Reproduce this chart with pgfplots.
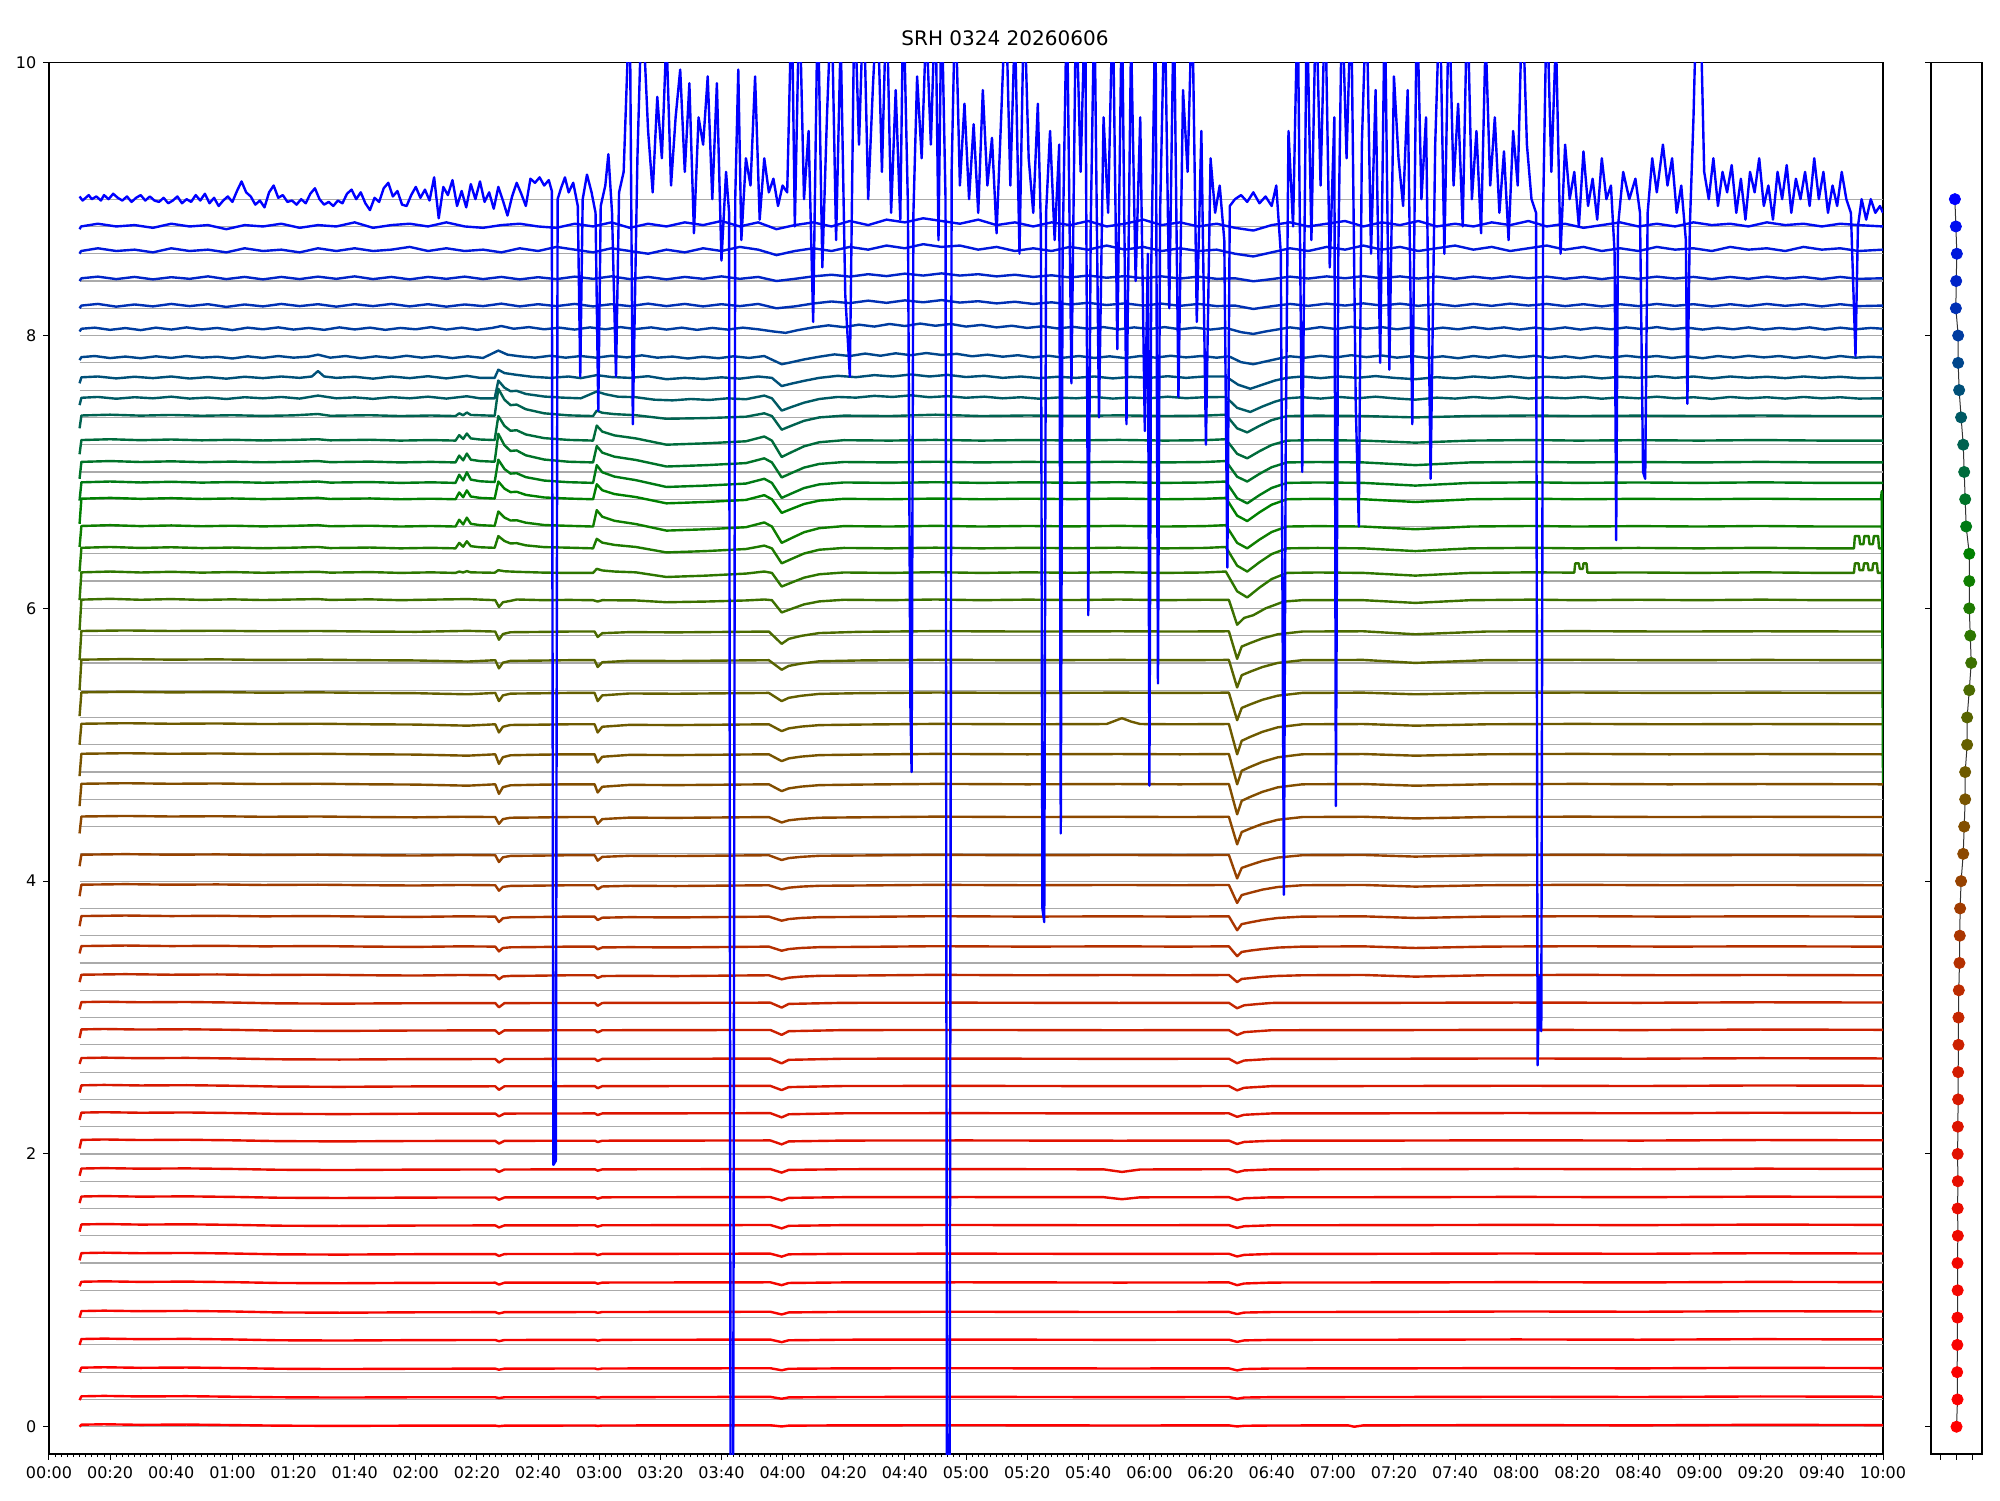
\documentclass[border=0pt]{standalone}
\usepackage{fontspec}
\setmainfont{DejaVu Sans}
\usepackage{pgfplots}
\pgfplotsset{compat=1.18}
\definecolor{c0}{RGB}{255,0,0}\definecolor{c1}{RGB}{252,0,0}\definecolor{c2}{RGB}{250,2,0}\definecolor{c3}{RGB}{248,3,0}
\definecolor{c4}{RGB}{246,4,0}\definecolor{c5}{RGB}{244,6,0}\definecolor{c6}{RGB}{241,8,0}\definecolor{c7}{RGB}{238,10,0}
\definecolor{c8}{RGB}{234,12,0}\definecolor{c9}{RGB}{230,14,0}\definecolor{c10}{RGB}{225,17,0}\definecolor{c11}{RGB}{220,20,0}
\definecolor{c12}{RGB}{215,24,0}\definecolor{c13}{RGB}{210,28,0}\definecolor{c14}{RGB}{203,33,0}\definecolor{c15}{RGB}{196,38,0}
\definecolor{c16}{RGB}{188,43,0}\definecolor{c17}{RGB}{180,48,0}\definecolor{c18}{RGB}{170,54,0}\definecolor{c19}{RGB}{160,60,0}
\definecolor{c20}{RGB}{150,66,0}\definecolor{c21}{RGB}{140,72,0}\definecolor{c22}{RGB}{130,78,0}\definecolor{c23}{RGB}{120,84,0}
\definecolor{c24}{RGB}{110,90,0}\definecolor{c25}{RGB}{100,95,0}\definecolor{c26}{RGB}{88,100,0}\definecolor{c27}{RGB}{75,106,0}
\definecolor{c28}{RGB}{60,112,0}\definecolor{c29}{RGB}{45,118,0}\definecolor{c30}{RGB}{30,122,0}\definecolor{c31}{RGB}{15,126,0}
\definecolor{c32}{RGB}{0,128,0}\definecolor{c33}{RGB}{0,122,20}\definecolor{c34}{RGB}{0,115,40}\definecolor{c35}{RGB}{0,107,60}
\definecolor{c36}{RGB}{0,98,80}\definecolor{c37}{RGB}{0,90,100}\definecolor{c38}{RGB}{0,80,120}\definecolor{c39}{RGB}{0,70,140}
\definecolor{c40}{RGB}{0,60,160}\definecolor{c41}{RGB}{0,48,180}\definecolor{c42}{RGB}{0,36,200}\definecolor{c43}{RGB}{0,24,220}
\definecolor{c44}{RGB}{0,12,240}\definecolor{c45}{RGB}{0,0,255}
\definecolor{gline}{RGB}{170,170,170}
\begin{document}
\begin{tikzpicture}
\path[use as bounding box] (0,0) rectangle (1000pt,750pt);
\node[anchor=base, font=\fontsize{10}{12}\selectfont] at (502.5pt,727.1pt) {SRH 0324 20260606};
\begin{axis}[
  at={(24.5pt,23pt)}, anchor=south west, scale only axis,
  width=917pt, height=695.6pt,
  xmin=0, xmax=600, ymin=-0.2, ymax=10,
  xtick={0,20,...,600},
  xticklabels={00:00,00:20,00:40,01:00,01:20,01:40,02:00,02:20,02:40,03:00,03:20,03:40,04:00,04:20,04:40,05:00,05:20,05:40,06:00,06:20,06:40,07:00,07:20,07:40,08:00,08:20,08:40,09:00,09:20,09:40,10:00},
  minor x tick num=9,
  ytick={0,2,4,6,8,10},
  tick pos=left, tick align=outside,
  major tick length=2.8pt, minor tick length=1.6pt,
  every tick/.style={black, line width=0.5pt},
  axis line style={line width=0.6pt},
  tick label style={font=\fontsize{8}{9.5}\selectfont},
  /pgf/number format/assume math mode=true,
  every axis plot/.append style={line width=1.2pt, line join=round},
]
\pgfplotsinvokeforeach{0,0.2,0.4,0.6,0.8,1.0,1.2,1.4,1.6,1.8,2.0,2.2,2.4,2.6,2.8,3.0,3.2,3.4,3.6,3.8,4.0,4.2,4.4,4.6,4.8,5.0,5.2,5.4,5.6,5.8,6.0,6.2,6.4,6.6,6.8,7.0,7.2,7.4,7.6,7.8,8.0,8.2,8.4,8.6,8.8,9.0}{
  \addplot[gline, line width=0.6pt] coordinates {(10,#1)(600,#1)};
}
% k=0..15
\addplot[c0] coordinates {(10,0.0)(10.6,0.015)(18,0.018)(30,0.014)(45,0.016)(60,0.012)(75,0.008)(95,0.006)(120,0.008)(146,0.008)(147.2,0.004)(149,0.008)(178.6,0.009)(179.5,0.006)(181,0.009)(210,0.01)(236,0.011)(239.7,0.002)(242,0.008)(260,0.01)(300,0.011)(350,0.009)(386,0.01)(388.7,0.002)(391,0.007)(400,0.009)(425,0.01)(427,0.0)(430,0.01)(480,0.012)(520,0.01)(560,0.014)(600,0.012)};
\addplot[c1] coordinates {(10,0.195)(10.6,0.223)(18,0.226)(30,0.222)(45,0.224)(60,0.22)(75,0.216)(95,0.214)(120,0.216)(146,0.216)(147.2,0.21)(149,0.216)(178.6,0.217)(179.5,0.212)(181,0.217)(210,0.218)(236,0.219)(239.7,0.205)(242,0.215)(260,0.218)(300,0.219)(350,0.217)(386,0.218)(388.7,0.205)(391,0.214)(400,0.217)(440,0.218)(480,0.22)(520,0.218)(560,0.222)(600,0.22)};
\addplot[c2] coordinates {(10,0.40)(10.6,0.433)(18,0.436)(30,0.432)(45,0.434)(60,0.43)(75,0.425)(95,0.423)(120,0.425)(146,0.426)(147.2,0.418)(149,0.426)(178.6,0.427)(179.5,0.421)(181,0.427)(210,0.428)(236,0.429)(239.7,0.414)(242,0.425)(260,0.428)(300,0.429)(350,0.427)(386,0.428)(388.7,0.413)(391,0.423)(400,0.427)(440,0.428)(480,0.43)(520,0.428)(560,0.432)(600,0.43)};
\addplot[c3] coordinates {(10,0.60)(10.6,0.643)(18,0.646)(30,0.642)(45,0.644)(60,0.64)(75,0.634)(95,0.632)(120,0.635)(146,0.636)(147.2,0.627)(149,0.636)(178.6,0.637)(179.5,0.631)(181,0.637)(210,0.638)(236,0.639)(239.7,0.62)(242,0.634)(260,0.638)(300,0.639)(350,0.637)(386,0.638)(388.7,0.622)(391,0.633)(400,0.637)(440,0.638)(480,0.64)(520,0.638)(560,0.642)(600,0.64)};
\addplot[c4] coordinates {(10,0.80)(10.6,0.848)(18,0.851)(30,0.847)(45,0.849)(60,0.845)(75,0.838)(95,0.836)(120,0.839)(146,0.84)(147.2,0.83)(149,0.84)(178.6,0.841)(179.5,0.835)(181,0.841)(210,0.842)(236,0.843)(239.7,0.823)(242,0.838)(260,0.842)(300,0.843)(350,0.841)(386,0.842)(388.7,0.826)(391,0.837)(400,0.841)(440,0.842)(480,0.845)(520,0.843)(560,0.847)(600,0.845)};
\addplot[c5] coordinates {(10,1.03)(10.6,1.063)(18,1.066)(30,1.062)(45,1.064)(60,1.06)(75,1.054)(95,1.052)(120,1.055)(146,1.056)(147.2,1.042)(149,1.056)(178.6,1.057)(179.5,1.048)(181,1.057)(210,1.058)(236,1.059)(239.7,1.038)(242,1.054)(260,1.058)(300,1.059)(350,1.057)(386,1.058)(388.7,1.038)(391,1.05)(400,1.057)(440,1.058)(480,1.06)(520,1.058)(560,1.062)(600,1.06)};
\addplot[c6] coordinates {(10,1.22)(10.6,1.273)(18,1.276)(30,1.272)(45,1.274)(60,1.27)(75,1.264)(95,1.262)(120,1.265)(146,1.266)(147.2,1.252)(149,1.266)(178.6,1.267)(179.5,1.258)(181,1.267)(210,1.268)(236,1.269)(239.7,1.247)(242,1.264)(260,1.268)(300,1.269)(350,1.267)(386,1.268)(388.7,1.248)(391,1.26)(400,1.267)(440,1.268)(480,1.27)(520,1.268)(560,1.272)(600,1.27)};
\addplot[c7] coordinates {(10,1.43)(10.6,1.483)(18,1.486)(30,1.482)(45,1.484)(60,1.48)(75,1.474)(95,1.472)(120,1.475)(146,1.476)(147.2,1.461)(149,1.476)(178.6,1.477)(179.5,1.467)(181,1.477)(210,1.478)(236,1.479)(239.7,1.454)(242,1.473)(260,1.478)(300,1.479)(350,1.477)(386,1.478)(388.7,1.458)(391,1.47)(400,1.477)(440,1.478)(480,1.48)(520,1.478)(560,1.482)(600,1.48)};
\addplot[c8] coordinates {(10,1.64)(10.6,1.688)(18,1.691)(30,1.687)(45,1.689)(60,1.685)(75,1.679)(95,1.677)(120,1.68)(146,1.681)(147.2,1.664)(149,1.681)(178.6,1.682)(179.5,1.672)(181,1.682)(210,1.683)(236,1.684)(239.7,1.659)(242,1.678)(260,1.683)(300,1.684)(345,1.683)(351,1.668)(357,1.682)(386,1.683)(388.7,1.662)(391,1.675)(400,1.682)(440,1.683)(480,1.685)(520,1.683)(560,1.687)(600,1.685)};
\addplot[c9] coordinates {(10,1.84)(10.6,1.893)(18,1.896)(30,1.892)(45,1.894)(60,1.89)(75,1.884)(95,1.882)(120,1.885)(146,1.886)(147.2,1.868)(149,1.886)(178.6,1.887)(179.5,1.877)(181,1.887)(210,1.888)(236,1.889)(239.7,1.863)(242,1.883)(260,1.888)(300,1.889)(345,1.887)(351,1.868)(357,1.886)(386,1.888)(388.7,1.866)(391,1.879)(400,1.887)(440,1.888)(480,1.89)(520,1.888)(560,1.892)(600,1.89)};
\addplot[c10] coordinates {(10,2.04)(10.6,2.103)(18,2.106)(30,2.102)(45,2.104)(60,2.10)(75,2.094)(95,2.092)(120,2.095)(146,2.096)(147.2,2.076)(149,2.096)(178.6,2.097)(179.5,2.087)(181,2.097)(210,2.098)(236,2.099)(239.7,2.07)(242,2.092)(260,2.098)(300,2.099)(350,2.097)(386,2.098)(388.7,2.073)(391,2.088)(400,2.097)(440,2.098)(480,2.10)(520,2.098)(560,2.102)(600,2.10)};
\addplot[c11] coordinates {(10,2.25)(10.6,2.303)(18,2.306)(30,2.302)(45,2.304)(60,2.30)(75,2.294)(95,2.292)(120,2.295)(146,2.296)(147.2,2.275)(149,2.296)(178.6,2.297)(179.5,2.285)(181,2.297)(210,2.298)(236,2.299)(239.7,2.268)(242,2.291)(260,2.298)(300,2.299)(350,2.297)(386,2.298)(388.7,2.272)(391,2.287)(400,2.297)(440,2.298)(480,2.30)(520,2.298)(560,2.302)(600,2.30)};
\addplot[c12] coordinates {(10,2.45)(10.6,2.503)(18,2.506)(30,2.502)(45,2.504)(60,2.50)(75,2.494)(95,2.492)(120,2.495)(146,2.496)(147.2,2.47)(149,2.496)(178.6,2.497)(179.5,2.482)(181,2.497)(210,2.498)(236,2.499)(239.7,2.468)(242,2.49)(260,2.498)(300,2.499)(350,2.497)(386,2.498)(388.7,2.466)(391,2.485)(400,2.497)(440,2.498)(480,2.50)(520,2.498)(560,2.502)(600,2.50)};
\addplot[c13] coordinates {(10,2.66)(10.6,2.703)(18,2.706)(30,2.702)(45,2.704)(60,2.70)(75,2.694)(95,2.692)(120,2.695)(146,2.696)(147.2,2.67)(149,2.696)(178.6,2.697)(179.5,2.681)(181,2.697)(210,2.698)(236,2.699)(239.7,2.664)(242,2.69)(260,2.698)(300,2.699)(350,2.697)(386,2.698)(388.7,2.665)(391,2.685)(400,2.697)(440,2.698)(480,2.70)(520,2.698)(560,2.702)(600,2.70)};
\addplot[c14] coordinates {(10,2.85)(10.6,2.913)(18,2.916)(30,2.912)(45,2.914)(60,2.91)(75,2.904)(95,2.902)(120,2.905)(146,2.906)(147.2,2.88)(149,2.906)(178.6,2.907)(179.5,2.891)(181,2.907)(210,2.908)(236,2.909)(239.7,2.873)(242,2.9)(260,2.908)(300,2.909)(350,2.907)(386,2.908)(388.7,2.872)(391,2.893)(400,2.907)(440,2.908)(480,2.91)(520,2.908)(560,2.912)(600,2.91)};
\addplot[c15] coordinates {(10,3.06)(10.6,3.113)(18,3.116)(30,3.112)(45,3.114)(60,3.11)(75,3.104)(95,3.102)(120,3.105)(146,3.106)(147.2,3.075)(149,3.106)(178.6,3.107)(179.5,3.086)(181,3.107)(210,3.108)(236,3.109)(239.7,3.073)(242,3.1)(260,3.108)(300,3.109)(350,3.107)(386,3.108)(388.7,3.068)(391,3.09)(396,3.1)(400,3.107)(440,3.108)(480,3.11)(520,3.108)(560,3.112)(600,3.11)};
% k=16..27
\addplot[c16] coordinates {(10,3.26)(10.6,3.314)(25,3.318)(40,3.314)(55,3.316)(70,3.312)(88,3.314)(105,3.31)(120,3.308)(135,3.312)(146,3.31)(147.2,3.28)(148.5,3.301)(151,3.305)(160,3.307)(170,3.31)(178.5,3.31)(179.5,3.29)(181,3.304)(190,3.306)(205,3.304)(220,3.307)(235.5,3.31)(239.7,3.28)(242,3.292)(246,3.3)(252,3.306)(265,3.308)(290,3.313)(320,3.31)(350,3.312)(370,3.31)(386,3.312)(388.7,3.26)(390.2,3.283)(393,3.289)(397,3.298)(402,3.305)(410,3.31)(430,3.312)(447,3.30)(470,3.31)(500,3.313)(530,3.31)(560,3.312)(600,3.31)};
\addplot[c17] coordinates {(10,3.47)(10.6,3.524)(25,3.528)(40,3.524)(55,3.526)(70,3.522)(88,3.524)(105,3.52)(120,3.518)(135,3.522)(146,3.52)(147.2,3.485)(148.5,3.51)(151,3.515)(160,3.517)(170,3.52)(178.5,3.52)(179.5,3.50)(181,3.514)(190,3.516)(205,3.514)(220,3.517)(235.5,3.52)(239.7,3.49)(242,3.502)(246,3.51)(252,3.516)(265,3.518)(290,3.523)(320,3.52)(350,3.522)(370,3.52)(386,3.522)(388.7,3.45)(390.2,3.481)(393,3.491)(397,3.502)(402,3.513)(410,3.52)(430,3.522)(447,3.51)(470,3.52)(500,3.523)(530,3.52)(560,3.522)(600,3.52)};
\addplot[c18] coordinates {(10,3.67)(10.6,3.744)(25,3.748)(40,3.744)(55,3.746)(70,3.742)(88,3.744)(105,3.74)(120,3.738)(135,3.742)(146,3.74)(147.2,3.70)(148.5,3.728)(151,3.735)(160,3.737)(170,3.74)(178.5,3.74)(179.5,3.715)(181,3.732)(190,3.736)(205,3.734)(220,3.737)(235.5,3.74)(239.7,3.71)(242,3.722)(246,3.73)(252,3.736)(265,3.738)(290,3.743)(320,3.74)(350,3.742)(370,3.74)(386,3.742)(388.7,3.64)(390.2,3.685)(393,3.698)(397,3.715)(402,3.73)(410,3.74)(430,3.742)(447,3.73)(470,3.74)(500,3.743)(530,3.74)(560,3.742)(600,3.74)};
\addplot[c19] coordinates {(10,3.89)(10.6,3.974)(25,3.978)(40,3.974)(55,3.976)(70,3.972)(88,3.974)(105,3.97)(120,3.968)(135,3.972)(146,3.97)(147.2,3.93)(148.5,3.958)(151,3.965)(160,3.967)(170,3.97)(178.5,3.97)(179.5,3.94)(181,3.961)(190,3.966)(205,3.964)(220,3.967)(235.5,3.97)(239.7,3.94)(242,3.952)(246,3.96)(252,3.966)(265,3.968)(290,3.973)(320,3.97)(350,3.972)(370,3.97)(386,3.972)(388.7,3.84)(390.2,3.898)(393,3.915)(397,3.938)(402,3.957)(410,3.97)(430,3.972)(447,3.96)(470,3.97)(500,3.973)(530,3.97)(560,3.972)(600,3.97)};
\addplot[c20] coordinates {(10,4.11)(10.6,4.194)(25,4.198)(40,4.194)(55,4.196)(70,4.192)(88,4.194)(105,4.19)(120,4.188)(135,4.192)(146,4.19)(147.2,4.14)(148.5,4.175)(151,4.185)(160,4.187)(170,4.19)(178.5,4.19)(179.5,4.15)(181,4.178)(190,4.186)(205,4.184)(220,4.187)(235.5,4.19)(239.7,4.155)(242,4.169)(246,4.178)(252,4.186)(265,4.188)(290,4.193)(320,4.19)(350,4.192)(370,4.19)(386,4.192)(388.7,4.02)(390.2,4.097)(393,4.119)(397,4.148)(402,4.173)(410,4.19)(430,4.192)(447,4.18)(470,4.19)(500,4.193)(530,4.19)(560,4.192)(600,4.19)};
\addplot[c21] coordinates {(10,4.35)(10.6,4.474)(25,4.478)(40,4.474)(55,4.476)(70,4.472)(88,4.474)(105,4.47)(120,4.468)(135,4.472)(146,4.47)(147.2,4.42)(148.5,4.455)(151,4.465)(160,4.467)(170,4.47)(178.5,4.47)(179.5,4.42)(181,4.455)(190,4.466)(205,4.464)(220,4.467)(235.5,4.47)(239.7,4.43)(242,4.446)(246,4.456)(252,4.465)(265,4.468)(290,4.473)(320,4.47)(350,4.472)(370,4.47)(386,4.472)(388.7,4.27)(390.2,4.36)(393,4.386)(397,4.42)(402,4.45)(410,4.47)(430,4.472)(447,4.46)(470,4.47)(500,4.473)(530,4.47)(560,4.472)(600,4.47)};
\addplot[c22] coordinates {(10,4.55)(10.6,4.714)(25,4.718)(40,4.714)(55,4.716)(70,4.712)(88,4.714)(105,4.71)(120,4.708)(137,4.70)(146,4.71)(147.2,4.64)(148.5,4.689)(151,4.703)(160,4.707)(170,4.71)(178.5,4.71)(179.5,4.65)(181,4.692)(190,4.706)(205,4.704)(220,4.707)(235.5,4.71)(239.7,4.66)(242,4.68)(246,4.693)(252,4.704)(265,4.708)(290,4.713)(320,4.71)(350,4.712)(370,4.71)(386,4.712)(388.7,4.49)(390.2,4.589)(393,4.618)(397,4.655)(402,4.688)(410,4.71)(430,4.712)(447,4.70)(470,4.71)(500,4.713)(530,4.71)(560,4.712)(600,4.71)};
\addplot[c23] coordinates {(10,4.77)(10.6,4.934)(25,4.938)(40,4.934)(55,4.936)(70,4.932)(88,4.934)(105,4.93)(120,4.928)(137,4.92)(146,4.93)(147.2,4.86)(148.5,4.909)(151,4.923)(160,4.927)(170,4.93)(178.5,4.93)(179.5,4.87)(181,4.912)(190,4.926)(205,4.924)(220,4.927)(235.5,4.93)(239.7,4.88)(242,4.90)(246,4.913)(252,4.924)(265,4.928)(290,4.933)(320,4.93)(350,4.932)(370,4.93)(386,4.932)(388.7,4.71)(390.2,4.809)(393,4.838)(397,4.875)(402,4.908)(410,4.93)(430,4.932)(447,4.92)(470,4.93)(500,4.933)(530,4.93)(560,4.932)(600,4.93)};
\addplot[c24] coordinates {(10,5.0)(10.6,5.154)(25,5.158)(40,5.154)(55,5.156)(70,5.152)(88,5.154)(105,5.15)(120,5.148)(137,5.14)(146,5.15)(147.2,5.09)(148.5,5.132)(151,5.145)(160,5.147)(170,5.15)(178.5,5.15)(179.5,5.09)(181,5.132)(190,5.146)(205,5.144)(220,5.147)(235.5,5.15)(239.7,5.10)(242,5.12)(246,5.133)(252,5.144)(265,5.148)(290,5.153)(320,5.15)(346,5.152)(351,5.195)(354,5.17)(357,5.152)(370,5.15)(386,5.152)(388.7,4.93)(390.2,5.029)(393,5.058)(397,5.095)(402,5.128)(410,5.15)(430,5.152)(447,5.14)(470,5.15)(500,5.153)(530,5.15)(560,5.152)(600,5.15)};
\addplot[c25] coordinates {(10,5.21)(10.6,5.384)(25,5.388)(40,5.384)(55,5.386)(70,5.382)(88,5.384)(105,5.38)(120,5.378)(137,5.37)(146,5.38)(147.2,5.32)(148.5,5.362)(151,5.375)(160,5.377)(170,5.38)(178.5,5.38)(179.5,5.32)(181,5.362)(190,5.376)(205,5.374)(220,5.377)(235.5,5.38)(239.7,5.32)(242,5.344)(246,5.359)(252,5.373)(265,5.378)(290,5.383)(320,5.38)(350,5.382)(370,5.38)(386,5.382)(388.7,5.18)(390.2,5.27)(393,5.296)(397,5.33)(402,5.36)(410,5.38)(430,5.382)(447,5.37)(470,5.38)(500,5.383)(530,5.38)(560,5.382)(600,5.38)};
\addplot[c26] coordinates {(10,5.40)(10.6,5.624)(25,5.628)(40,5.624)(55,5.626)(70,5.622)(88,5.624)(105,5.62)(120,5.618)(137,5.61)(146,5.62)(147.2,5.56)(148.5,5.602)(151,5.615)(160,5.617)(170,5.62)(178.5,5.62)(179.5,5.57)(181,5.605)(190,5.616)(205,5.614)(220,5.617)(235.5,5.62)(239.7,5.55)(242,5.578)(246,5.595)(252,5.612)(265,5.618)(290,5.623)(320,5.62)(350,5.622)(370,5.62)(386,5.622)(388.7,5.42)(390.2,5.51)(393,5.536)(397,5.57)(402,5.60)(410,5.62)(430,5.622)(447,5.60)(470,5.62)(500,5.623)(530,5.62)(560,5.622)(600,5.62)};
\addplot[c27] coordinates {(10,5.62)(10.6,5.834)(25,5.838)(40,5.834)(55,5.836)(70,5.832)(88,5.834)(105,5.83)(120,5.828)(137,5.835)(146,5.83)(147.2,5.77)(148.5,5.812)(151,5.825)(160,5.827)(170,5.83)(178.5,5.83)(179.5,5.79)(181,5.818)(190,5.826)(205,5.824)(220,5.827)(235.5,5.83)(239.7,5.74)(242,5.776)(246,5.798)(252,5.819)(265,5.828)(290,5.833)(320,5.83)(350,5.832)(370,5.83)(386,5.832)(388.7,5.63)(390.2,5.72)(393,5.746)(397,5.78)(402,5.81)(410,5.83)(430,5.832)(447,5.81)(470,5.83)(500,5.833)(530,5.83)(560,5.832)(600,5.83)};
% k=28..37
\addplot[c28] coordinates {(10,5.84)(10.6,6.064)(20,6.07)(30,6.063)(40,6.068)(50,6.062)(60,6.066)(70,6.061)(80,6.065)(88,6.068)(92,6.062)(105,6.066)(115,6.06)(125,6.064)(137,6.068)(146,6.06)(147.2,6.01)(148.5,6.045)(151,6.055)(153,6.065)(162,6.06)(170,6.062)(178,6.06)(179.5,6.05)(181,6.06)(192,6.058)(202,6.045)(215,6.05)(228,6.058)(234,6.065)(236.5,6.06)(239.7,5.97)(243,5.997)(247,6.029)(252,6.051)(260,6.063)(275,6.06)(290,6.065)(305,6.06)(320,6.064)(335,6.061)(350,6.065)(365,6.06)(378,6.063)(386,6.062)(388.7,5.88)(391,5.93)(394,5.95)(398,6.0)(404,6.05)(410,6.06)(430,6.06)(447,6.04)(465,6.06)(485,6.064)(500,6.06)(520,6.063)(540,6.06)(560,6.064)(580,6.06)(600,6.06)};
\addplot[c29] coordinates {(10,6.06)(10.6,6.264)(20,6.27)(30,6.263)(40,6.268)(50,6.262)(60,6.266)(70,6.261)(80,6.265)(88,6.268)(92,6.262)(105,6.266)(115,6.26)(125,6.264)(133,6.26)(134.2,6.27)(135.5,6.263)(136.7,6.273)(138,6.264)(145.8,6.261)(147,6.28)(149,6.272)(153,6.268)(162,6.262)(170,6.26)(178,6.26)(179.2,6.29)(181,6.278)(185,6.27)(192,6.264)(202,6.23)(215,6.24)(228,6.255)(234,6.27)(236.5,6.26)(239.7,6.16)(243,6.19)(247,6.225)(252,6.25)(260,6.263)(275,6.26)(290,6.265)(305,6.26)(320,6.264)(335,6.261)(350,6.265)(365,6.26)(378,6.263)(385,6.27)(388.7,6.125)(392,6.08)(396,6.152)(400,6.215)(405,6.26)(415,6.263)(430,6.26)(447,6.24)(465,6.26)(485,6.264)(499,6.262)(499.3,6.33)(500.5,6.33)(500.8,6.29)(501.8,6.29)(502,6.33)(503,6.33)(503.3,6.262)(520,6.263)(540,6.26)(560,6.264)(580,6.26)(590.5,6.26)(590.8,6.33)(592,6.33)(592.3,6.28)(593.5,6.28)(593.8,6.33)(595,6.33)(595.3,6.28)(596.5,6.28)(596.8,6.33)(598,6.33)(598.3,6.26)(600,6.26)};
\addplot[c30] coordinates {(10,6.27)(10.6,6.444)(20,6.45)(30,6.443)(40,6.448)(50,6.442)(60,6.446)(70,6.441)(80,6.445)(88,6.45)(92,6.442)(105,6.446)(115,6.44)(125,6.444)(133,6.44)(134.2,6.48)(135.5,6.452)(136.7,6.492)(138,6.456)(141,6.448)(145.8,6.444)(147,6.53)(149,6.494)(151,6.476)(153,6.478)(156,6.462)(162,6.449)(170,6.445)(178,6.44)(179.2,6.51)(181,6.482)(185,6.465)(192,6.45)(202,6.41)(215,6.42)(228,6.435)(234,6.46)(236.5,6.44)(239.7,6.33)(243,6.363)(247,6.402)(252,6.43)(260,6.443)(275,6.44)(290,6.445)(305,6.44)(320,6.444)(335,6.441)(350,6.445)(365,6.44)(378,6.443)(385,6.45)(388.7,6.313)(392,6.27)(396,6.338)(400,6.398)(405,6.44)(415,6.443)(430,6.44)(447,6.42)(465,6.44)(485,6.444)(500,6.44)(520,6.443)(540,6.44)(560,6.444)(580,6.44)(590.5,6.44)(590.8,6.53)(592.2,6.53)(592.5,6.47)(593.6,6.47)(593.9,6.53)(595.3,6.53)(595.6,6.47)(596.7,6.47)(597,6.53)(598.4,6.53)(598.7,6.44)(600,6.44)};
\addplot[c31] coordinates {(10,6.45)(10.6,6.604)(20,6.61)(30,6.603)(40,6.608)(50,6.602)(60,6.606)(70,6.601)(80,6.605)(88,6.61)(92,6.602)(105,6.606)(115,6.60)(125,6.604)(133,6.60)(134.2,6.65)(135.5,6.615)(136.7,6.665)(138,6.62)(141,6.61)(145.8,6.605)(147,6.71)(149,6.666)(151,6.644)(153,6.646)(156,6.628)(162,6.611)(170,6.605)(178,6.60)(179.2,6.72)(181,6.672)(185,6.642)(192,6.618)(202,6.57)(215,6.58)(228,6.595)(234,6.63)(236.5,6.60)(239.7,6.48)(243,6.516)(247,6.558)(252,6.588)(260,6.603)(275,6.60)(290,6.605)(305,6.60)(320,6.604)(335,6.601)(350,6.605)(365,6.60)(378,6.603)(385,6.61)(388.7,6.48)(392,6.44)(396,6.504)(400,6.56)(405,6.60)(415,6.603)(430,6.60)(447,6.58)(465,6.60)(485,6.604)(500,6.60)(520,6.603)(540,6.60)(560,6.604)(580,6.60)(600,6.60)};
\addplot[c32] coordinates {(10,6.62)(10.6,6.804)(20,6.81)(30,6.803)(40,6.808)(50,6.802)(60,6.806)(70,6.801)(80,6.805)(88,6.81)(92,6.802)(105,6.806)(115,6.80)(125,6.804)(133,6.80)(134.2,6.85)(135.5,6.815)(136.7,6.865)(138,6.82)(141,6.81)(145.8,6.805)(147,6.93)(149,6.878)(151,6.852)(153,6.855)(156,6.832)(162,6.813)(170,6.805)(178,6.80)(179.2,6.91)(181,6.866)(185,6.838)(192,6.816)(202,6.77)(215,6.78)(228,6.795)(234,6.83)(236.5,6.80)(239.7,6.70)(243,6.73)(247,6.765)(252,6.79)(260,6.803)(275,6.80)(290,6.805)(305,6.80)(320,6.804)(335,6.801)(350,6.805)(365,6.80)(378,6.803)(385,6.81)(388.7,6.68)(392,6.64)(396,6.704)(400,6.76)(405,6.80)(415,6.803)(430,6.80)(447,6.78)(465,6.80)(485,6.804)(500,6.80)(520,6.803)(540,6.80)(560,6.804)(580,6.80)(599.3,6.80)(599.6,6.86)(600,4.72)};
\addplot[c33] coordinates {(10,6.79)(10.6,6.924)(20,6.93)(30,6.923)(40,6.928)(50,6.922)(60,6.926)(70,6.921)(80,6.925)(88,6.93)(92,6.922)(105,6.926)(115,6.92)(125,6.924)(133,6.92)(134.2,6.98)(135.5,6.938)(136.7,6.998)(138,6.944)(141,6.932)(145.8,6.926)(147,7.09)(149,7.022)(151,6.988)(153,6.991)(156,6.962)(162,6.937)(170,6.925)(178,6.92)(179.2,7.05)(181,6.998)(185,6.966)(192,6.94)(202,6.89)(215,6.90)(228,6.915)(234,6.95)(236.5,6.92)(239.7,6.81)(243,6.843)(247,6.882)(252,6.909)(260,6.923)(275,6.92)(290,6.925)(305,6.92)(320,6.924)(335,6.921)(350,6.925)(365,6.92)(378,6.923)(385,6.93)(388.7,6.808)(392,6.77)(396,6.83)(400,6.883)(405,6.92)(415,6.923)(430,6.92)(447,6.90)(465,6.92)(485,6.924)(500,6.92)(520,6.923)(540,6.92)(560,6.924)(580,6.92)(600,6.92)};
\addplot[c34] coordinates {(10,6.95)(10.6,7.074)(20,7.08)(30,7.073)(40,7.078)(50,7.072)(60,7.076)(70,7.071)(80,7.075)(88,7.08)(92,7.072)(105,7.076)(115,7.07)(125,7.074)(133,7.07)(134.2,7.12)(135.5,7.085)(136.7,7.135)(138,7.09)(141,7.08)(145.8,7.075)(147,7.28)(149,7.196)(151,7.154)(153,7.158)(156,7.122)(162,7.091)(170,7.075)(178,7.07)(179.2,7.19)(181,7.142)(185,7.112)(192,7.088)(202,7.04)(215,7.05)(228,7.065)(234,7.10)(236.5,7.07)(239.7,6.96)(243,6.993)(247,7.032)(252,7.059)(260,7.073)(275,7.07)(290,7.075)(305,7.07)(320,7.074)(335,7.071)(350,7.075)(365,7.07)(378,7.073)(385,7.08)(388.7,6.965)(392,6.93)(396,6.986)(400,7.035)(405,7.07)(415,7.073)(430,7.07)(447,7.05)(465,7.07)(485,7.074)(500,7.07)(520,7.073)(540,7.07)(560,7.074)(580,7.07)(600,7.07)};
\addplot[c35] coordinates {(10,7.13)(10.6,7.234)(20,7.24)(30,7.233)(40,7.238)(50,7.232)(60,7.236)(70,7.231)(80,7.235)(88,7.24)(92,7.232)(105,7.236)(115,7.23)(125,7.234)(133,7.23)(134.2,7.27)(135.5,7.242)(136.7,7.282)(138,7.246)(141,7.238)(145.8,7.234)(147,7.41)(149,7.338)(151,7.302)(153,7.306)(156,7.275)(162,7.248)(170,7.235)(178,7.23)(179.2,7.34)(181,7.296)(185,7.268)(192,7.246)(202,7.20)(215,7.21)(228,7.225)(234,7.26)(236.5,7.23)(239.7,7.11)(243,7.146)(247,7.188)(252,7.218)(260,7.233)(275,7.23)(290,7.235)(305,7.23)(320,7.234)(335,7.231)(350,7.235)(365,7.23)(378,7.233)(385,7.24)(388.7,7.133)(392,7.10)(396,7.152)(400,7.198)(405,7.23)(415,7.233)(430,7.23)(447,7.215)(465,7.23)(485,7.234)(500,7.23)(520,7.233)(540,7.23)(560,7.234)(580,7.23)(600,7.23)};
\addplot[c36] coordinates {(10,7.32)(10.6,7.414)(20,7.42)(30,7.413)(40,7.418)(50,7.412)(60,7.416)(70,7.411)(80,7.415)(88,7.425)(92,7.412)(105,7.416)(115,7.41)(125,7.414)(133,7.41)(134.2,7.43)(135.5,7.416)(136.7,7.436)(138,7.418)(145.8,7.412)(147,7.61)(149,7.53)(151,7.49)(153,7.494)(156,7.46)(162,7.43)(170,7.415)(178,7.41)(179.2,7.45)(181,7.434)(185,7.424)(192,7.416)(202,7.39)(215,7.395)(228,7.405)(234,7.43)(236.5,7.41)(239.7,7.31)(243,7.34)(247,7.375)(252,7.40)(260,7.413)(275,7.41)(290,7.42)(305,7.41)(320,7.414)(335,7.411)(350,7.415)(365,7.41)(378,7.413)(385,7.42)(388.7,7.32)(392,7.29)(396,7.338)(400,7.38)(405,7.41)(415,7.413)(430,7.41)(447,7.40)(465,7.41)(485,7.414)(500,7.41)(520,7.413)(540,7.41)(560,7.414)(580,7.41)(600,7.41)};
\addplot[c37] coordinates {(10,7.49)(10.6,7.544)(16,7.55)(22,7.537)(28,7.548)(34,7.54)(40,7.552)(46,7.538)(52,7.546)(58,7.535)(64,7.548)(70,7.54)(76,7.55)(82,7.538)(88,7.56)(94,7.54)(100,7.547)(106,7.536)(112,7.549)(118,7.54)(124,7.552)(130,7.538)(136.7,7.555)(141,7.54)(145.8,7.54)(147,7.67)(149,7.618)(151,7.592)(153,7.595)(156,7.572)(162,7.553)(168,7.545)(174,7.54)(179.2,7.59)(182,7.57)(186,7.552)(192,7.548)(198,7.53)(204,7.525)(210,7.535)(216,7.528)(222,7.54)(228,7.533)(234,7.56)(236.5,7.54)(239.7,7.45)(243,7.477)(247,7.508)(252,7.535)(258,7.55)(264,7.545)(270,7.558)(276,7.55)(282,7.562)(288,7.548)(294,7.556)(300,7.544)(306,7.552)(312,7.54)(318,7.548)(324,7.537)(330,7.546)(336,7.54)(342,7.55)(348,7.538)(354,7.546)(360,7.54)(366,7.552)(372,7.541)(378,7.548)(385,7.55)(388.7,7.47)(393,7.44)(397,7.48)(401,7.515)(405,7.54)(410,7.548)(416,7.538)(422,7.55)(428,7.54)(434,7.552)(440,7.54)(447,7.53)(454,7.545)(460,7.538)(466,7.55)(472,7.54)(478,7.552)(484,7.538)(490,7.547)(496,7.54)(502,7.55)(508,7.537)(514,7.548)(520,7.54)(526,7.552)(532,7.54)(538,7.548)(544,7.536)(550,7.55)(556,7.54)(562,7.548)(568,7.538)(574,7.55)(580,7.54)(586,7.548)(592,7.538)(600,7.54)};
% k=38..44
\addplot[c38] coordinates {(10,7.65)(10.6,7.694)(16,7.70)(22,7.686)(28,7.698)(34,7.688)(40,7.70)(46,7.685)(52,7.696)(58,7.684)(64,7.698)(70,7.688)(76,7.70)(82,7.69)(86,7.70)(88,7.74)(90,7.70)(94,7.69)(100,7.698)(106,7.684)(112,7.70)(118,7.688)(124,7.702)(130,7.686)(136.7,7.705)(141,7.69)(145.8,7.69)(147,7.75)(149,7.725)(153,7.712)(158,7.698)(164,7.69)(170,7.70)(174,7.688)(179.2,7.71)(184,7.696)(190,7.69)(196,7.702)(202,7.68)(208,7.69)(214,7.682)(220,7.694)(226,7.684)(232,7.70)(236.5,7.69)(239.7,7.63)(243,7.648)(247,7.668)(252,7.69)(258,7.705)(264,7.695)(270,7.71)(276,7.70)(282,7.715)(288,7.70)(294,7.712)(300,7.696)(306,7.705)(312,7.69)(318,7.70)(324,7.688)(330,7.698)(336,7.69)(342,7.70)(348,7.686)(354,7.697)(360,7.69)(366,7.702)(372,7.69)(378,7.70)(385,7.70)(389,7.64)(393,7.61)(397,7.64)(401,7.67)(405,7.69)(410,7.70)(416,7.688)(422,7.70)(428,7.69)(434,7.703)(440,7.69)(447,7.68)(454,7.695)(460,7.686)(466,7.70)(472,7.69)(478,7.702)(484,7.688)(490,7.698)(496,7.69)(502,7.70)(508,7.686)(514,7.698)(520,7.69)(526,7.702)(532,7.69)(538,7.70)(544,7.686)(550,7.70)(556,7.69)(562,7.698)(568,7.688)(574,7.70)(580,7.69)(586,7.698)(592,7.688)(600,7.69)};
\addplot[c39] coordinates {(10,7.82)(10.6,7.842)(15,7.85)(20,7.835)(25,7.846)(30,7.834)(35,7.848)(40,7.836)(45,7.85)(50,7.838)(55,7.845)(60,7.832)(65,7.848)(70,7.836)(75,7.85)(80,7.838)(85,7.846)(88,7.86)(92,7.838)(97,7.85)(102,7.834)(107,7.848)(112,7.836)(117,7.852)(122,7.838)(127,7.85)(132,7.835)(137,7.848)(142,7.836)(147,7.89)(150,7.86)(154,7.848)(159,7.838)(164,7.852)(169,7.838)(174,7.85)(179,7.838)(184,7.852)(189,7.84)(194,7.855)(199,7.838)(204,7.846)(209,7.832)(214,7.845)(219,7.834)(224,7.848)(229,7.836)(234,7.85)(239.7,7.79)(243,7.805)(247,7.825)(252,7.845)(257,7.862)(262,7.85)(267,7.868)(272,7.852)(277,7.87)(282,7.856)(287,7.872)(292,7.858)(297,7.866)(302,7.848)(307,7.86)(312,7.845)(317,7.856)(322,7.84)(327,7.852)(332,7.838)(337,7.85)(342,7.836)(347,7.848)(352,7.835)(357,7.85)(362,7.838)(367,7.852)(372,7.84)(377,7.85)(382,7.838)(386,7.848)(390,7.805)(394,7.79)(398,7.81)(402,7.83)(406,7.848)(411,7.838)(416,7.852)(421,7.84)(426,7.856)(431,7.842)(436,7.854)(441,7.838)(446,7.85)(451,7.836)(456,7.848)(461,7.834)(466,7.85)(471,7.838)(476,7.854)(481,7.84)(486,7.852)(491,7.836)(496,7.848)(501,7.834)(506,7.85)(511,7.838)(516,7.852)(521,7.84)(526,7.85)(531,7.836)(536,7.848)(541,7.834)(546,7.85)(551,7.838)(556,7.852)(561,7.84)(566,7.85)(571,7.836)(576,7.848)(581,7.834)(586,7.85)(591,7.838)(596,7.845)(600,7.84)};
\addplot[c40] coordinates {(10,8.03)(10.6,8.05)(15,8.058)(20,8.042)(25,8.055)(30,8.04)(35,8.058)(40,8.044)(45,8.06)(50,8.045)(55,8.056)(60,8.04)(65,8.058)(70,8.046)(75,8.06)(80,8.044)(85,8.056)(90,8.042)(95,8.06)(100,8.045)(105,8.058)(110,8.042)(115,8.056)(120,8.046)(125,8.062)(130,8.044)(135,8.058)(140,8.042)(145,8.056)(148,8.07)(152,8.05)(157,8.062)(162,8.046)(167,8.058)(172,8.044)(177,8.06)(182,8.046)(187,8.062)(192,8.048)(197,8.06)(202,8.044)(207,8.058)(212,8.042)(217,8.056)(222,8.044)(227,8.058)(232,8.046)(237,8.03)(241,8.02)(245,8.04)(250,8.06)(255,8.075)(260,8.062)(265,8.08)(270,8.066)(275,8.085)(280,8.07)(285,8.088)(290,8.072)(295,8.085)(300,8.066)(305,8.078)(310,8.06)(315,8.072)(320,8.056)(325,8.068)(330,8.052)(335,8.064)(340,8.05)(345,8.062)(350,8.046)(355,8.06)(360,8.048)(365,8.062)(370,8.046)(375,8.058)(380,8.044)(385,8.056)(390,8.025)(394,8.012)(398,8.03)(402,8.045)(406,8.06)(411,8.046)(416,8.062)(421,8.048)(426,8.064)(431,8.05)(436,8.062)(441,8.046)(446,8.06)(451,8.044)(456,8.058)(461,8.046)(466,8.062)(471,8.048)(476,8.06)(481,8.044)(486,8.058)(491,8.046)(496,8.06)(501,8.044)(506,8.058)(511,8.046)(516,8.06)(521,8.048)(526,8.062)(531,8.046)(536,8.058)(541,8.044)(546,8.058)(551,8.046)(556,8.06)(561,8.044)(566,8.056)(571,8.046)(576,8.06)(581,8.044)(586,8.058)(591,8.046)(596,8.056)(600,8.05)};
\addplot[c41] coordinates {(10,8.20)(10.6,8.22)(16,8.232)(22,8.212)(28,8.228)(34,8.214)(40,8.232)(46,8.216)(52,8.23)(58,8.21)(64,8.228)(70,8.214)(76,8.232)(82,8.216)(88,8.23)(94,8.212)(100,8.23)(106,8.216)(112,8.232)(118,8.214)(124,8.23)(130,8.212)(136,8.228)(142,8.216)(148,8.234)(154,8.214)(160,8.23)(166,8.216)(172,8.232)(178,8.214)(184,8.23)(190,8.216)(196,8.234)(202,8.216)(208,8.232)(214,8.214)(220,8.23)(226,8.216)(232,8.232)(238,8.2)(244,8.214)(250,8.235)(256,8.25)(262,8.238)(268,8.256)(274,8.24)(280,8.258)(286,8.244)(292,8.26)(298,8.242)(304,8.252)(310,8.236)(316,8.248)(322,8.232)(328,8.244)(334,8.228)(340,8.24)(346,8.224)(352,8.236)(358,8.22)(364,8.234)(370,8.218)(376,8.232)(382,8.216)(388,8.22)(394,8.195)(400,8.215)(406,8.232)(412,8.218)(418,8.234)(424,8.22)(430,8.236)(436,8.22)(442,8.234)(448,8.218)(454,8.232)(460,8.216)(466,8.232)(472,8.218)(478,8.234)(484,8.22)(490,8.232)(496,8.216)(502,8.23)(508,8.214)(514,8.23)(520,8.216)(526,8.232)(532,8.218)(538,8.23)(544,8.214)(550,8.23)(556,8.216)(562,8.232)(568,8.218)(574,8.23)(580,8.214)(586,8.23)(592,8.216)(600,8.22)};
\addplot[c42] coordinates {(10,8.40)(10.6,8.42)(16,8.432)(22,8.414)(28,8.43)(34,8.412)(40,8.428)(46,8.416)(52,8.434)(58,8.414)(64,8.43)(70,8.412)(76,8.43)(82,8.414)(88,8.432)(94,8.416)(100,8.434)(106,8.414)(112,8.43)(118,8.412)(124,8.43)(130,8.416)(136,8.432)(142,8.414)(148,8.43)(154,8.412)(160,8.428)(166,8.414)(172,8.432)(178,8.416)(184,8.434)(190,8.414)(196,8.43)(202,8.412)(208,8.43)(214,8.416)(220,8.434)(226,8.416)(232,8.43)(238,8.40)(244,8.416)(250,8.434)(256,8.446)(262,8.432)(268,8.45)(274,8.436)(280,8.454)(286,8.44)(292,8.456)(298,8.44)(304,8.45)(310,8.434)(316,8.446)(322,8.43)(328,8.442)(334,8.426)(340,8.44)(346,8.424)(352,8.436)(358,8.42)(364,8.434)(370,8.418)(376,8.432)(382,8.416)(388,8.42)(394,8.398)(400,8.414)(406,8.432)(412,8.418)(418,8.434)(424,8.42)(430,8.436)(436,8.42)(442,8.434)(448,8.418)(454,8.432)(460,8.416)(466,8.432)(472,8.418)(478,8.434)(484,8.42)(490,8.432)(496,8.416)(502,8.43)(508,8.414)(514,8.43)(520,8.416)(526,8.432)(532,8.418)(538,8.43)(544,8.414)(550,8.43)(556,8.416)(562,8.432)(568,8.418)(574,8.43)(580,8.414)(586,8.43)(592,8.416)(600,8.42)};
\addplot[c43] coordinates {(10,8.60)(10.5,8.62)(16,8.64)(22,8.62)(28,8.63)(34,8.61)(40,8.64)(46,8.62)(52,8.63)(58,8.61)(64,8.64)(70,8.62)(76,8.63)(82,8.61)(88,8.64)(94,8.62)(100,8.64)(106,8.62)(112,8.63)(118,8.65)(124,8.62)(130,8.64)(136,8.62)(142,8.63)(148,8.61)(154,8.64)(160,8.62)(166,8.65)(172,8.63)(178,8.61)(184,8.64)(190,8.62)(196,8.60)(202,8.63)(208,8.61)(214,8.64)(220,8.62)(226,8.65)(232,8.63)(238,8.59)(244,8.62)(250,8.64)(256,8.62)(262,8.65)(268,8.63)(274,8.66)(280,8.64)(286,8.67)(292,8.65)(298,8.66)(304,8.63)(310,8.65)(316,8.62)(322,8.64)(328,8.62)(334,8.65)(340,8.63)(346,8.66)(352,8.63)(358,8.65)(364,8.62)(370,8.64)(376,8.62)(382,8.63)(388,8.60)(394,8.58)(400,8.61)(406,8.64)(412,8.62)(418,8.65)(424,8.63)(430,8.66)(436,8.63)(442,8.65)(448,8.62)(454,8.64)(460,8.66)(466,8.63)(472,8.65)(478,8.62)(484,8.64)(490,8.66)(496,8.63)(502,8.65)(508,8.62)(514,8.64)(520,8.62)(526,8.65)(532,8.63)(538,8.64)(544,8.62)(550,8.65)(556,8.63)(562,8.64)(568,8.62)(574,8.65)(580,8.63)(586,8.64)(592,8.62)(600,8.63)};
\addplot[c44] coordinates {(10,8.78)(10.5,8.80)(16,8.82)(22,8.80)(28,8.81)(34,8.79)(40,8.82)(46,8.80)(52,8.81)(58,8.78)(64,8.81)(70,8.80)(76,8.82)(82,8.79)(88,8.81)(94,8.80)(100,8.83)(106,8.79)(112,8.81)(118,8.82)(124,8.80)(130,8.83)(136,8.80)(142,8.79)(148,8.81)(154,8.82)(160,8.80)(166,8.79)(172,8.82)(178,8.80)(184,8.83)(190,8.79)(196,8.82)(202,8.80)(208,8.83)(214,8.81)(220,8.84)(226,8.80)(232,8.83)(238,8.78)(244,8.81)(250,8.83)(256,8.80)(262,8.84)(268,8.81)(274,8.85)(280,8.83)(286,8.86)(292,8.84)(298,8.82)(304,8.85)(310,8.81)(316,8.83)(322,8.80)(328,8.83)(334,8.81)(340,8.84)(346,8.80)(352,8.82)(358,8.85)(364,8.81)(370,8.83)(376,8.80)(382,8.82)(388,8.79)(394,8.77)(400,8.81)(406,8.83)(412,8.80)(418,8.82)(424,8.84)(430,8.80)(436,8.83)(442,8.81)(448,8.84)(454,8.80)(460,8.82)(466,8.80)(472,8.83)(478,8.81)(484,8.84)(490,8.80)(496,8.82)(502,8.79)(508,8.81)(514,8.83)(520,8.80)(526,8.82)(532,8.80)(538,8.83)(544,8.81)(550,8.82)(556,8.80)(562,8.83)(568,8.81)(574,8.82)(580,8.80)(586,8.82)(592,8.81)(600,8.80)};
% k=45 top trace
\addplot[c45] coordinates {(10,9.02)(11,8.99)(12,9.01)(13,9.03)(14,9.00)(15.5,9.02)(17,8.99)(18,9.03)(19.5,9.00)(21,9.04)(22.5,9.01)(24,8.99)(25.5,9.02)(27,8.98)(28.5,9.01)(30,9.03)(31.5,8.99)(33,9.02)(34.5,8.99)(36,8.98)(37.5,9.01)(39,8.97)(40.5,8.99)(42,9.02)(43.5,8.97)(45,9.00)(46.5,8.98)(48,9.03)(49.5,8.99)(51,9.04)(52.5,8.97)(54,9.01)(55.5,8.95)(57,8.99)(58.5,9.02)(60,8.98)(61.5,9.06)(63,9.13)(64.5,9.05)(66,9.02)(67.5,8.96)(69,8.99)(70.5,8.94)(72,9.05)(73.5,9.10)(75,9.01)(76.5,9.03)(78,8.98)(79.5,8.99)(81,8.96)(82.5,9.00)(84,8.97)(85.5,9.04)(87,9.08)(88.5,9.00)(90,8.96)(91.5,8.98)(93,8.95)(94.5,8.99)(96,8.97)(97.5,9.04)(99,9.07)(100.5,9.00)(102,9.05)(103.5,8.97)(105,8.92)(106.5,9.01)(108,8.98)(109.5,9.08)(111,9.12)(112.5,9.02)(114,9.06)(115.5,8.96)(117,8.95)(118.5,9.03)(120,9.09)(121.5,9.01)(123,9.07)(124.5,8.99)(126,9.16)(127.5,8.86)(129,9.09)(130.5,9.03)(132,9.14)(133.5,8.95)(135,9.06)(136.5,8.94)(138,9.11)(139.5,9.00)(141,9.13)(142.5,8.98)(144,9.05)(145.5,8.93)(147,9.09)(148.5,8.99)(150,8.88)(151.5,9.02)(153,9.12)(154.5,9.04)(156,8.95)(157.5,9.15)(159,9.12)(160.5,9.16)(162,9.10)(163.5,9.14)(164.5,9.06)(165,1.92)(165.8,1.95)(166.4,9.00)(167.5,9.08)(168.8,9.16)(170,9.05)(171.5,9.12)(173,8.95)(173.8,7.70)(174.6,9.00)(176,9.18)(177.5,9.05)(178.8,8.90)(179.7,7.45)(180.5,8.95)(182,9.10)(183,9.33)(184.2,8.90)(185.5,7.70)(186.5,9.05)(188,9.20)(190,10.5)(191,7.35)(192.5,9.3)(194,10.5)(196,9.5)(197.5,9.05)(199,9.75)(200.5,9.3)(202,10.2)(203.5,9.1)(205,9.6)(206.5,9.95)(208,9.2)(209.5,9.85)(211,8.75)(212.5,9.6)(214,9.4)(215.5,9.9)(217,9.0)(218.5,9.85)(220,8.55)(221.5,9.2)(222.5,8.9)(223,-1)(223.8,-1)(224.5,9.0)(225.5,9.95)(226.5,8.7)(228,9.3)(229.5,9.1)(231,9.9)(232.5,8.85)(234,9.3)(235.5,9.05)(237,9.15)(238.5,8.95)(240,9.1)(241.5,9.05)(243,10.5)(244,8.8)(245.5,10.5)(247,9.0)(248.5,9.5)(250,8.1)(251.5,10.5)(253,8.5)(254.5,9.6)(256,10.5)(257.5,8.7)(259,10.2)(260.5,8.3)(262,7.7)(263.5,10.5)(265,9.4)(266.5,10.5)(268,9.0)(269.5,9.8)(271,10.5)(272.5,9.2)(274,10.5)(275.5,8.9)(277,9.8)(278.5,8.85)(279.5,10.5)(281,8.95)(281.8,5.3)(282.2,4.8)(282.8,8.9)(284,9.9)(285.5,9.3)(287,10.3)(288.5,9.4)(290,10.5)(291,8.7)(292,10.5)(293.3,9.0)(293.8,-1)(294.6,-1)(295.3,9.2)(296.5,10.5)(298,9.1)(299.5,9.7)(301,9.0)(302.5,9.55)(304,8.9)(305.5,9.8)(307,9.1)(308.5,9.45)(310,8.75)(311.5,9.6)(313,10.5)(314.5,9.1)(316,10.3)(317.5,8.6)(319,10.5)(320.5,9.3)(322,8.9)(323.5,9.7)(324.5,8.8)(325,3.8)(325.6,3.7)(326.2,8.9)(327.5,9.5)(329,8.7)(330.5,9.4)(331,4.35)(331.6,8.6)(333,10.5)(334.5,7.65)(336,10.5)(337.5,9.2)(339,10.5)(340,5.95)(340.8,8.8)(342,10.5)(343.5,7.4)(345,9.6)(346.5,8.9)(348,10.5)(349.5,7.9)(351,10.5)(352.5,7.35)(354,10.2)(355.5,8.4)(357,9.6)(358.5,7.3)(359.5,8.6)(360,4.7)(360.6,8.5)(362,10.5)(362.8,5.45)(363.5,8.9)(365,10.5)(366.5,8.2)(368,10.5)(369.5,7.55)(371,9.8)(372.5,9.2)(374,10.5)(375.5,8.1)(377,9.5)(378.5,7.2)(380,9.3)(381.5,8.9)(383,9.1)(384.5,8.7)(385.5,6.3)(386.3,8.95)(388,9.0)(390,9.03)(392,8.98)(394,9.05)(396,8.97)(398,9.02)(400,8.95)(401.5,9.1)(403,8.6)(404,3.9)(404.6,7.2)(405.5,9.5)(407,8.8)(408.5,10.5)(410,7.0)(411.5,10.5)(413,8.7)(414.5,10.5)(416,9.1)(417.5,10.5)(419,8.5)(420.5,9.6)(421,4.55)(421.8,8.6)(423,10.5)(424.5,9.3)(426,10.5)(427.5,7.5)(428.5,6.6)(429.5,9.4)(431,10.5)(432.5,8.6)(434,9.8)(435.5,7.8)(437,10.5)(438.5,7.75)(440,9.9)(441.5,9.3)(443,8.95)(444.5,9.8)(446,7.35)(447.5,10.5)(449,9.0)(450.5,9.6)(452,6.95)(453.5,9.4)(455,10.5)(456.5,8.6)(458,10.5)(459.5,9.1)(461,9.7)(462.5,8.8)(464,10.5)(465.5,9.0)(467,9.5)(468.5,8.75)(470,10.2)(471.5,9.1)(473,9.6)(474.5,8.9)(476,9.35)(477.5,8.7)(479,9.5)(480.5,9.1)(482,10.5)(483.5,9.4)(485,9.0)(486.5,8.9)(487,2.65)(487.6,3.3)(488.2,2.9)(488.8,8.9)(490,10.5)(491.5,9.2)(493,10.2)(494.5,8.6)(496,9.4)(497.5,9.0)(499,9.2)(500.5,8.8)(502,9.35)(503.5,8.95)(505,9.15)(506.5,8.85)(508,9.3)(509.5,9.0)(511,9.1)(512.2,8.6)(512.7,6.5)(513.3,8.8)(515,9.2)(517,9.0)(519,9.15)(520.5,8.9)(521.5,7.0)(522.2,6.95)(523,8.9)(524.5,9.3)(526,9.05)(528,9.4)(529.5,9.1)(531,9.3)(532.5,8.9)(534,9.1)(535.5,8.7)(536,7.5)(536.8,8.8)(538,9.6)(539,10.5)(540.2,10.5)(541.5,9.2)(543,9.0)(544.5,9.3)(546,8.95)(547.5,9.2)(549,9.05)(550.5,9.25)(552,8.9)(553.5,9.15)(555,8.85)(556.5,9.2)(558,9.05)(559.5,9.3)(561,8.95)(562.5,9.1)(564,8.85)(565.5,9.2)(567,9.0)(568.5,9.25)(570,8.9)(571.5,9.15)(573,9.0)(574.5,9.2)(576,8.95)(577.5,9.3)(579,9.0)(580.5,9.2)(582,8.9)(583.5,9.1)(585,8.95)(586.5,9.2)(588,9.0)(589.5,8.9)(591,7.85)(591.8,8.8)(593,9.0)(594.5,8.85)(596,9.0)(597.5,8.9)(599,8.95)(600,8.9)};
\end{axis}
\begin{axis}[
  at={(965.5pt,23pt)}, anchor=south west, scale only axis,
  width=25.5pt, height=695.6pt,
  xmin=-1.56, xmax=1.56, ymin=-0.2, ymax=10,
  xtick={-1,0,1}, ytick={0,2,4,6,8,10},
  xticklabels={}, yticklabels={},
  tick pos=left, tick align=outside,
  major tick length=2.8pt,
  every tick/.style={black, line width=0.5pt},
  axis line style={line width=0.6pt},
]
\addplot[black!80, line width=0.5pt] coordinates {(0.0,0)(0.06,0.2)(0.04,0.4)(0.05,0.6)(0.06,0.8)(0.07,1.0)(0.06,1.2)(0.08,1.4)(0.07,1.6)(0.08,1.8)(0.07,2.0)(0.08,2.2)(0.1,2.4)(0.1,2.6)(0.12,2.8)(0.12,3.0)(0.14,3.2)(0.18,3.4)(0.2,3.6)(0.22,3.8)(0.28,4.0)(0.41,4.2)(0.47,4.4)(0.53,4.6)(0.53,4.8)(0.65,5.0)(0.65,5.2)(0.78,5.4)(0.9,5.6)(0.84,5.8)(0.78,6.0)(0.78,6.2)(0.78,6.4)(0.59,6.6)(0.53,6.8)(0.47,7.0)(0.41,7.2)(0.28,7.4)(0.16,7.6)(0.1,7.8)(0.1,8.0)(-0.04,8.2)(-0.02,8.4)(0.02,8.6)(-0.04,8.8)(-0.1,9.0)};
\addplot[only marks, mark=*, mark size=2.8pt, c0] coordinates {(0.0,0)};
\addplot[only marks, mark=*, mark size=2.8pt, c1] coordinates {(0.06,0.2)};
\addplot[only marks, mark=*, mark size=2.8pt, c2] coordinates {(0.04,0.4)};
\addplot[only marks, mark=*, mark size=2.8pt, c3] coordinates {(0.05,0.6)};
\addplot[only marks, mark=*, mark size=2.8pt, c4] coordinates {(0.06,0.8)};
\addplot[only marks, mark=*, mark size=2.8pt, c5] coordinates {(0.07,1.0)};
\addplot[only marks, mark=*, mark size=2.8pt, c6] coordinates {(0.06,1.2)};
\addplot[only marks, mark=*, mark size=2.8pt, c7] coordinates {(0.08,1.4)};
\addplot[only marks, mark=*, mark size=2.8pt, c8] coordinates {(0.07,1.6)};
\addplot[only marks, mark=*, mark size=2.8pt, c9] coordinates {(0.08,1.8)};
\addplot[only marks, mark=*, mark size=2.8pt, c10] coordinates {(0.07,2.0)};
\addplot[only marks, mark=*, mark size=2.8pt, c11] coordinates {(0.08,2.2)};
\addplot[only marks, mark=*, mark size=2.8pt, c12] coordinates {(0.1,2.4)};
\addplot[only marks, mark=*, mark size=2.8pt, c13] coordinates {(0.1,2.6)};
\addplot[only marks, mark=*, mark size=2.8pt, c14] coordinates {(0.12,2.8)};
\addplot[only marks, mark=*, mark size=2.8pt, c15] coordinates {(0.12,3.0)};
\addplot[only marks, mark=*, mark size=2.8pt, c16] coordinates {(0.14,3.2)};
\addplot[only marks, mark=*, mark size=2.8pt, c17] coordinates {(0.18,3.4)};
\addplot[only marks, mark=*, mark size=2.8pt, c18] coordinates {(0.2,3.6)};
\addplot[only marks, mark=*, mark size=2.8pt, c19] coordinates {(0.22,3.8)};
\addplot[only marks, mark=*, mark size=2.8pt, c20] coordinates {(0.28,4.0)};
\addplot[only marks, mark=*, mark size=2.8pt, c21] coordinates {(0.41,4.2)};
\addplot[only marks, mark=*, mark size=2.8pt, c22] coordinates {(0.47,4.4)};
\addplot[only marks, mark=*, mark size=2.8pt, c23] coordinates {(0.53,4.6)};
\addplot[only marks, mark=*, mark size=2.8pt, c24] coordinates {(0.53,4.8)};
\addplot[only marks, mark=*, mark size=2.8pt, c25] coordinates {(0.65,5.0)};
\addplot[only marks, mark=*, mark size=2.8pt, c26] coordinates {(0.65,5.2)};
\addplot[only marks, mark=*, mark size=2.8pt, c27] coordinates {(0.78,5.4)};
\addplot[only marks, mark=*, mark size=2.8pt, c28] coordinates {(0.9,5.6)};
\addplot[only marks, mark=*, mark size=2.8pt, c29] coordinates {(0.84,5.8)};
\addplot[only marks, mark=*, mark size=2.8pt, c30] coordinates {(0.78,6.0)};
\addplot[only marks, mark=*, mark size=2.8pt, c31] coordinates {(0.78,6.2)};
\addplot[only marks, mark=*, mark size=2.8pt, c32] coordinates {(0.78,6.4)};
\addplot[only marks, mark=*, mark size=2.8pt, c33] coordinates {(0.59,6.6)};
\addplot[only marks, mark=*, mark size=2.8pt, c34] coordinates {(0.53,6.8)};
\addplot[only marks, mark=*, mark size=2.8pt, c35] coordinates {(0.47,7.0)};
\addplot[only marks, mark=*, mark size=2.8pt, c36] coordinates {(0.41,7.2)};
\addplot[only marks, mark=*, mark size=2.8pt, c37] coordinates {(0.28,7.4)};
\addplot[only marks, mark=*, mark size=2.8pt, c38] coordinates {(0.16,7.6)};
\addplot[only marks, mark=*, mark size=2.8pt, c39] coordinates {(0.1,7.8)};
\addplot[only marks, mark=*, mark size=2.8pt, c40] coordinates {(0.1,8.0)};
\addplot[only marks, mark=*, mark size=2.8pt, c41] coordinates {(-0.04,8.2)};
\addplot[only marks, mark=*, mark size=2.8pt, c42] coordinates {(-0.02,8.4)};
\addplot[only marks, mark=*, mark size=2.8pt, c43] coordinates {(0.02,8.6)};
\addplot[only marks, mark=*, mark size=2.8pt, c44] coordinates {(-0.04,8.8)};
\addplot[only marks, mark=*, mark size=2.8pt, c45] coordinates {(-0.1,9.0)};
\end{axis}
\end{tikzpicture}
\end{document}
